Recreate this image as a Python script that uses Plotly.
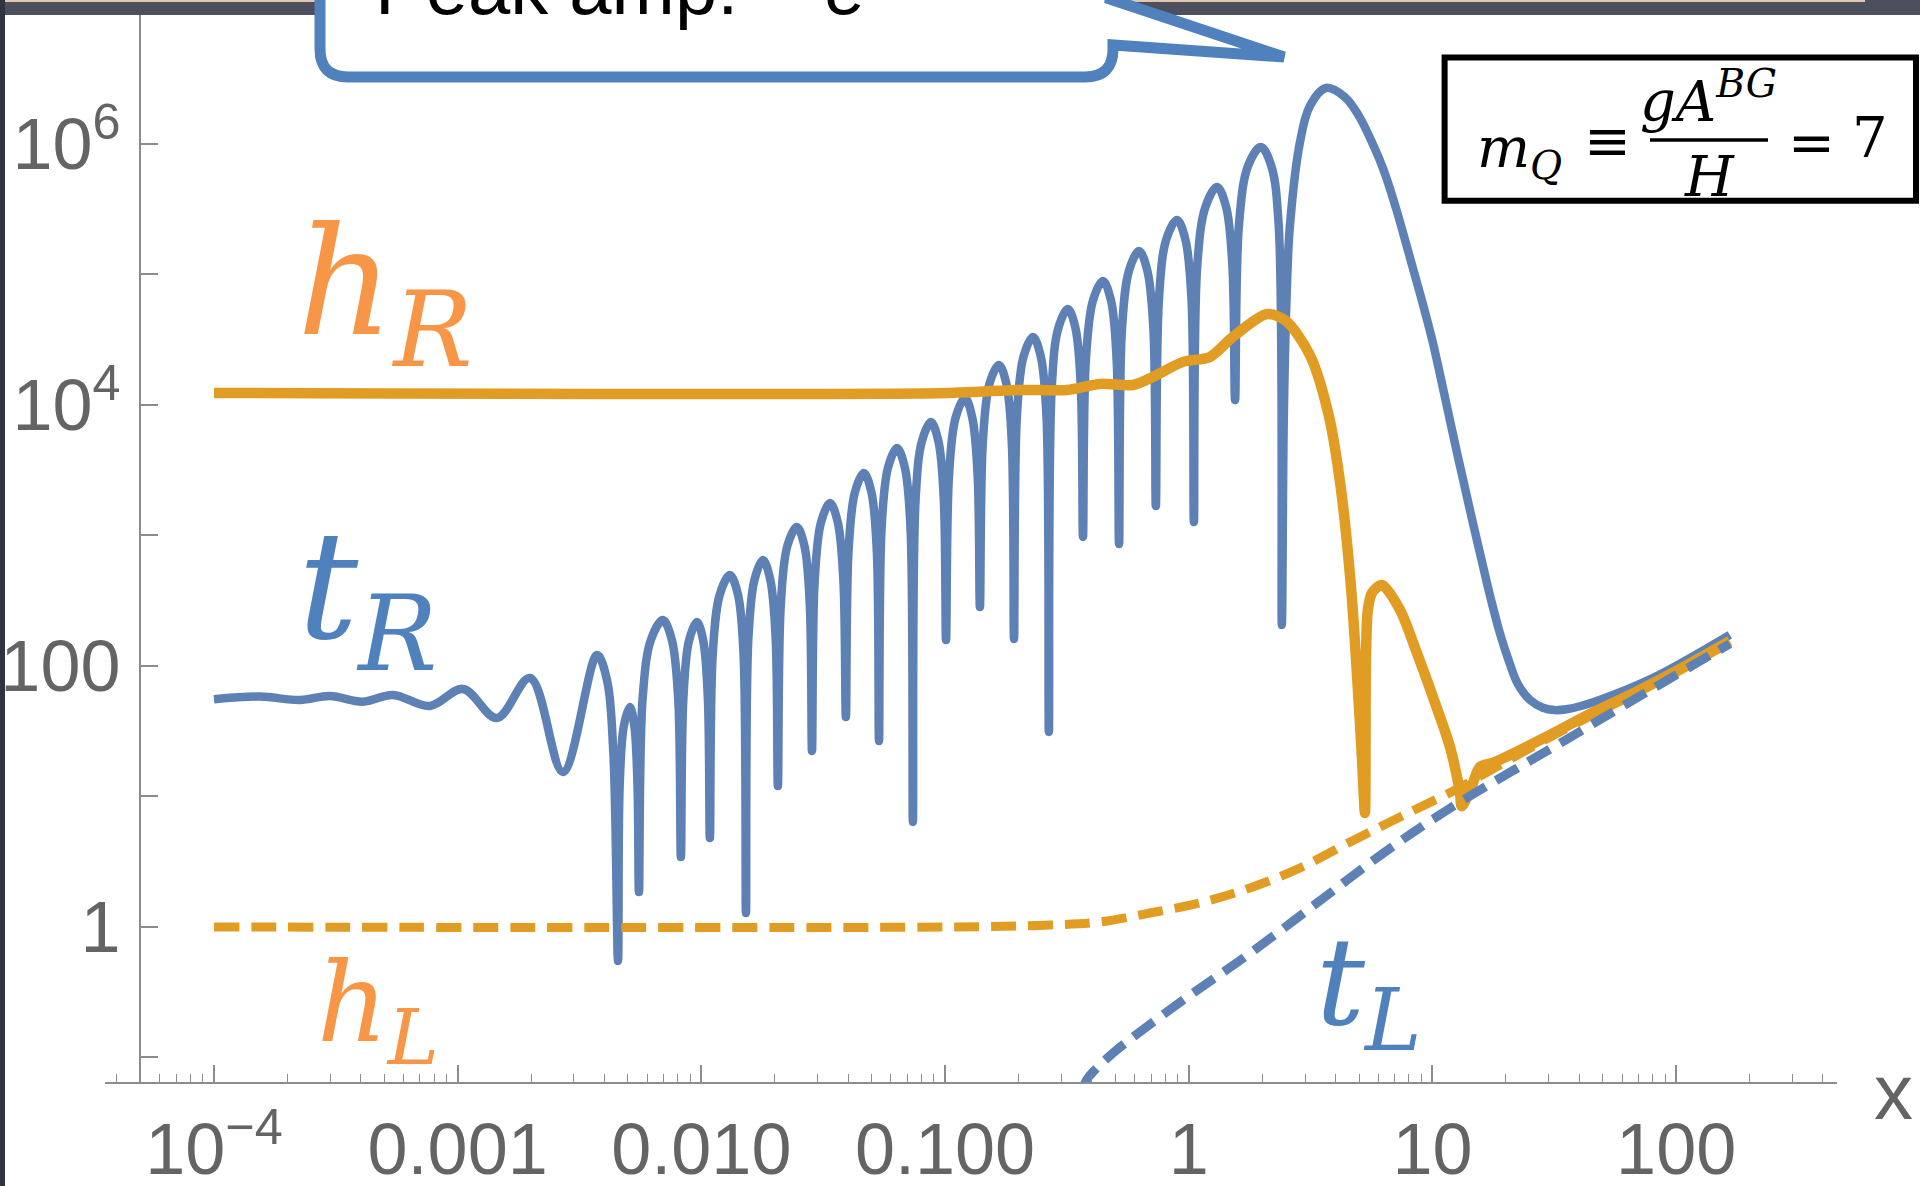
import plotly.graph_objects as go

W, H = 1920, 1186

BLUE = "#5E81B5"
ORANGE = "#E19C24"
LABEL_ORANGE = "#F79646"
LABEL_BLUE = "#4F81BD"
AXIS_GRAY = "#8C8C8C"
TEXT_GRAY = "#646464"

# Mode functions, stored as (log10 x, log10 |amplitude|) pairs
tR_points = [
    (-4.000, 1.745), (-3.811, 1.765), (-3.647, 1.739), (-3.524, 1.770),
    (-3.389, 1.726), (-3.265, 1.778), (-3.114, 1.693), (-2.978, 1.824),
    (-2.839, 1.602), (-2.703, 1.908), (-2.568, 1.188), (-2.428, 2.084),
    (-2.387, 1.890), (-2.361, 1.330),
    (-2.342, -0.261),
    (-2.335, 1.090), (-2.318, 1.540), (-2.293, 1.686), (-2.275, 1.540), (-2.262, 1.090),
    (-2.256, 0.268),
    (-2.241, 1.750), (-2.207, 2.200), (-2.158, 2.352), (-2.121, 2.200), (-2.095, 1.750),
    (-2.084, 0.536),
    (-2.074, 1.740), (-2.051, 2.190), (-2.018, 2.337), (-1.992, 2.190), (-1.973, 1.740),
    (-1.965, 0.682),
    (-1.953, 2.100), (-1.924, 2.550), (-1.883, 2.697), (-1.850, 2.550), (-1.827, 2.100),
    (-1.817, 0.107),
    (-1.807, 2.210), (-1.782, 2.660), (-1.747, 2.812), (-1.717, 2.660), (-1.695, 2.210),
    (-1.686, 1.080),
    (-1.674, 2.470), (-1.647, 2.920), (-1.608, 3.065), (-1.577, 2.920), (-1.555, 2.470),
    (-1.546, 1.349),
    (-1.535, 2.650), (-1.509, 3.100), (-1.472, 3.249), (-1.440, 3.100), (-1.417, 2.650),
    (-1.407, 1.609),
    (-1.396, 2.880), (-1.370, 3.330), (-1.333, 3.479), (-1.302, 3.330), (-1.280, 2.880),
    (-1.271, 1.425),
    (-1.260, 3.070), (-1.234, 3.520), (-1.197, 3.670), (-1.165, 3.520), (-1.142, 3.070),
    (-1.132, 0.805),
    (-1.121, 3.270), (-1.095, 3.720), (-1.058, 3.870), (-1.027, 3.720), (-1.005, 3.270),
    (-0.996, 2.199),
    (-0.984, 3.450), (-0.957, 3.900), (-0.918, 4.054), (-0.888, 3.900), (-0.866, 3.450),
    (-0.857, 2.452),
    (-0.845, 3.710), (-0.818, 4.160), (-0.779, 4.307), (-0.748, 4.160), (-0.726, 3.710),
    (-0.717, 2.207),
    (-0.705, 3.920), (-0.678, 4.370), (-0.639, 4.521), (-0.607, 4.370), (-0.584, 3.920),
    (-0.574, 1.494),
    (-0.562, 4.140), (-0.535, 4.590), (-0.496, 4.736), (-0.465, 4.590), (-0.443, 4.140),
    (-0.434, 2.989),
    (-0.422, 4.350), (-0.393, 4.800), (-0.352, 4.950), (-0.319, 4.800), (-0.296, 4.350),
    (-0.286, 2.935),
    (-0.274, 4.580), (-0.245, 5.030), (-0.204, 5.180), (-0.170, 5.030), (-0.145, 4.580),
    (-0.135, 3.226),
    (-0.122, 4.820), (-0.092, 5.270), (-0.048, 5.418), (-0.014, 5.270), (0.011, 4.820),
    (0.021, 3.103),
    (0.035, 5.070), (0.069, 5.520), (0.116, 5.670), (0.153, 5.520), (0.179, 5.070),
    (0.190, 4.038),
    (0.206, 5.380), (0.243, 5.830), (0.296, 5.977), (0.339, 5.830), (0.369, 5.380),
    (0.382, 2.314),
    (0.390, 3.900), (0.402, 4.860), (0.415, 5.370), (0.456, 6.010), (0.497, 6.290),
    (0.563, 6.429), (0.640, 6.360), (0.698, 6.215), (0.750, 6.020), (0.801, 5.793),
    (0.850, 5.510), (0.900, 5.180), (0.951, 4.840), (1.002, 4.475), (1.050, 4.070),
    (1.101, 3.632), (1.152, 3.210), (1.203, 2.800), (1.240, 2.510), (1.277, 2.250),
    (1.315, 2.030), (1.351, 1.860), (1.400, 1.740), (1.453, 1.680), (1.500, 1.662),
    (1.550, 1.668), (1.609, 1.693), (1.741, 1.778), (1.929, 1.931), (2.220, 2.238),
]

hR_points = [
    (-4.000, 4.092), (-0.980, 4.092), (-0.705, 4.115), (-0.500, 4.115),
    (-0.364, 4.161), (-0.229, 4.153), (-0.131, 4.230), (-0.024, 4.330),
    (0.087, 4.368), (0.181, 4.521), (0.321, 4.697), (0.399, 4.644),
    (0.497, 4.383), (0.575, 3.916), (0.625, 3.349), (0.666, 2.598),
    (0.690, 1.946), (0.711, 1.287), (0.723, 0.874), (0.727, 2.046), (0.735, 2.430),
    (0.752, 2.560), (0.793, 2.621), (0.867, 2.429), (0.936, 2.100),
    (1.002, 1.762), (1.072, 1.379), (1.113, 1.027), (1.120, 0.926),
    (1.158, 1.060), (1.195, 1.227), (1.252, 1.261), (1.458, 1.448),
    (1.646, 1.632), (1.835, 1.801), (2.024, 1.985), (2.220, 2.190),
]

hL_points = [
    (-4.000, 0.000), (-0.980, 0.000), (-0.570, 0.015), (-0.364, 0.038),
    (-0.159, 0.107), (0.046, 0.184), (0.251, 0.299), (0.456, 0.452),
    (0.662, 0.651), (0.867, 0.843), (1.101, 1.057), (1.252, 1.215),
    (1.458, 1.430), (1.646, 1.615), (1.835, 1.790), (2.024, 1.975),
    (2.220, 2.180),
]

tL_points = [
    (-0.435, -1.240), (-0.419, -1.172), (-0.392, -1.109), (-0.296, -0.943),
    (-0.022, -0.559), (0.251, -0.202), (0.525, 0.182), (0.798, 0.565),
    (1.072, 0.910), (1.553, 1.440), (1.929, 1.854), (2.220, 2.170),
]

x_tickvals = [1e-4, 1e-3, 1e-2, 1e-1, 1, 10, 100]
x_ticktext = ["10<sup>\u22124</sup>", "0.001", "0.010", "0.100", "1", "10", "100"]
y_tickvals = [0.1, 1, 10, 100, 1e3, 1e4, 1e5, 1e6]
y_ticktext = ["", "1", "", "100", "", "10<sup>4</sup>", "", "10<sup>6</sup>"]


def unlog(points):
    xs = [10 ** p[0] for p in points]
    ys = [10 ** p[1] for p in points]
    return xs, ys


def px(x):
    return x / W


def py(y):
    return 1 - y / H


fig = go.Figure()

x, y = unlog(tR_points)
fig.add_trace(go.Scatter(x=x, y=y, mode="lines",
                         line=dict(color=BLUE, width=8.5, shape="spline", smoothing=1.0)))
x, y = unlog(hR_points)
fig.add_trace(go.Scatter(x=x, y=y, mode="lines",
                         line=dict(color=ORANGE, width=10.5, shape="spline", smoothing=0.8)))
x, y = unlog(hL_points)
fig.add_trace(go.Scatter(x=x, y=y, mode="lines",
                         line=dict(color=ORANGE, width=9, shape="spline", smoothing=1.0,
                                   dash="25px,12px")))
x, y = unlog(tL_points)
fig.add_trace(go.Scatter(x=x, y=y, mode="lines",
                         line=dict(color=BLUE, width=9, shape="spline", smoothing=1.0,
                                   dash="25px,12px")))

tick_font = dict(family="Liberation Sans, Arial, sans-serif", size=72, color=TEXT_GRAY)

fig.update_layout(
    width=W, height=H,
    margin=dict(l=0, r=0, t=0, b=0),
    paper_bgcolor="white", plot_bgcolor="white",
    showlegend=False,
    xaxis=dict(
        type="log", range=[-4.447, 2.660], domain=[105 / W, 1837 / W],
        anchor="y", automargin=False,
        showline=True, linecolor=AXIS_GRAY, linewidth=1.6,
        showgrid=False, zeroline=False,
        ticks="inside", ticklen=17, tickwidth=1.6, tickcolor=AXIS_GRAY,
        tickmode="array", tickvals=x_tickvals, ticktext=x_ticktext,
        tickfont=tick_font, ticklabelstandoff=4,
        minor=dict(ticks="inside", ticklen=8, tickwidth=1.4, tickcolor=AXIS_GRAY,
                   dtick="D1", showgrid=False),
    ),
    yaxis=dict(
        type="log", range=[-1.188, 7.103], domain=[1 - 1082 / H, 1],
        anchor="free", position=139.7 / W, automargin=False,
        showline=True, linecolor=AXIS_GRAY, linewidth=1.6,
        showgrid=False, zeroline=False,
        ticks="inside", ticklen=17, tickwidth=1.6, tickcolor=AXIS_GRAY,
        tickmode="array", tickvals=y_tickvals, ticktext=y_ticktext,
        tickfont=tick_font, ticklabelstandoff=4,
    ),
)

# slide frame around the cropped figure
fig.add_shape(type="rect", xref="paper", yref="paper", layer="above",
              x0=px(0), x1=px(W), y0=py(0), y1=py(15),
              fillcolor="#4C4F5D", line=dict(width=0))
fig.add_shape(type="rect", xref="paper", yref="paper", layer="above",
              x0=px(0), x1=px(1865), y0=py(0), y1=py(2),
              fillcolor="#E4C6AE", line=dict(width=0))
fig.add_shape(type="rect", xref="paper", yref="paper", layer="above",
              x0=px(0), x1=px(5), y0=py(0), y1=py(H),
              fillcolor="#30343F", line=dict(width=0))

# speech-bubble callout at the top
callout = [("M", 320, -80), ("L", 320, 49), ("Q", 320, 77, 348, 77), ("L", 1085, 77),
           ("Q", 1113, 77, 1113, 49), ("L", 1113, 45), ("L", 1284, 57),
           ("L", 1110, -1), ("L", 1113, -80)]
path = ""
for seg in callout:
    cmd, coords = seg[0], seg[1:]
    pts = []
    for i in range(0, len(coords), 2):
        pts.append(f"{px(coords[i]):.5f},{py(coords[i + 1]):.5f}")
    path += cmd + " " + " ".join(pts) + " "
path += "Z"
fig.add_shape(type="path", xref="paper", yref="paper", layer="above", path=path,
              fillcolor="white", line=dict(color=LABEL_BLUE, width=11))
fig.add_annotation(xref="paper", yref="paper", x=px(373), y=py(32),
                   xanchor="left", yanchor="bottom", showarrow=False,
                   text="Peak amp: ~ <i>e</i><sup>(2+\u221a2)\u03c0<i>m</i><sub><i>Q</i></sub></sup>",
                   font=dict(family="Liberation Sans, Arial, sans-serif", size=76, color="black"))

# parameter box
fig.add_shape(type="rect", xref="paper", yref="paper", layer="above",
              x0=px(1444.6), x1=px(1916), y0=py(57.5), y1=py(200.8),
              fillcolor="white", line=dict(color="black", width=6))
fig.add_shape(type="line", xref="paper", yref="paper", layer="above",
              x0=px(1650), x1=px(1768), y0=py(140), y1=py(140),
              line=dict(color="black", width=3.5))
math_font = dict(family="DejaVu Serif, serif", size=56, color="black")
for txt, cx, cy in [("<i>m</i><sub><i>Q</i></sub>", 1519, 152),
                    ("\u2261", 1607, 140),
                    ("<i>gA</i><sup><i>BG</i></sup>", 1708, 97),
                    ("<i>H</i>", 1709, 177),
                    ("=", 1811, 142),
                    ("7", 1870, 138)]:
    fig.add_annotation(xref="paper", yref="paper", x=px(cx), y=py(cy),
                       xanchor="center", yanchor="middle", showarrow=False,
                       text=txt, font=math_font)

# curve labels
label_font = "DejaVu Serif, serif"
for txt, color, size, cx, cy in [
    ("<i>h</i><sub><i>R</i></sub>", LABEL_ORANGE, 150, 385, 293),
    ("<i>t</i><sub><i>R</i></sub>", LABEL_BLUE, 150, 367, 597),
    ("<i>h</i><sub><i>L</i></sub>", LABEL_ORANGE, 110, 378, 1010),
    ("<i>t</i><sub><i>L</i></sub>", LABEL_BLUE, 122, 1369, 990),
]:
    fig.add_annotation(xref="paper", yref="paper", x=px(cx), y=py(cy),
                       xanchor="center", yanchor="middle", showarrow=False,
                       text=txt, font=dict(family=label_font, size=size, color=color))

# axis label
fig.add_annotation(xref="paper", yref="paper", x=px(1893), y=py(1092),
                   xanchor="center", yanchor="middle", showarrow=False,
                   text="x", font=dict(family="Liberation Sans, Arial, sans-serif",
                                       size=78, color=TEXT_GRAY))

fig.write_html("out.html")
